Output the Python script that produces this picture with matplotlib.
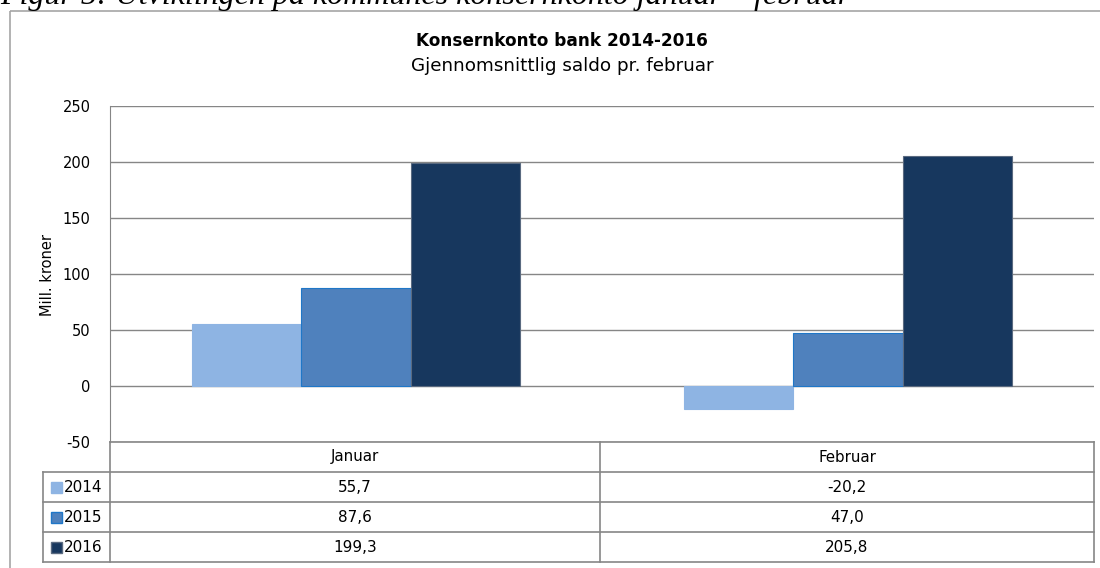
import numpy as np
import matplotlib.pyplot as plt
from matplotlib.patches import Rectangle

# Data
months = ["Januar", "Februar"]
years = ["2014", "2015", "2016"]
v2014 = [55.7, -20.2]
v2015 = [87.6, 47.0]
v2016 = [199.3, 205.8]
values = [v2014, v2015, v2016]
labels = [["55,7", "-20,2"], ["87,6", "47,0"], ["199,3", "205,8"]]
colors = ["#8EB4E3", "#4F81BD", "#17375E"]
edges = ["#8EB4E3", "#1F77C8", "#5A6A80"]

plt.rcParams['font.family'] = ['DejaVu Sans']
plt.rcParams['axes.unicode_minus'] = False
W, H = 1100, 568
fig = plt.figure(figsize=(11, 5.68), dpi=100)

# overlay in pixel coordinates for frame, titles and data table
bg = fig.add_axes([0, 0, 1, 1])
bg.set_xlim(0, W)
bg.set_ylim(H, 0)
bg.axis("off")

grid_c = "#868686"
bg.add_patch(Rectangle((10, 11), 1200, 700, fill=False, ec="#A6A6A6", lw=1.2))
# caption of the document, cut by the top edge as in the source
bg.text(0, 4, "Figur 5: Utviklingen på kommunes konsernkonto januar – februar",
        family=["Liberation Serif"], style="italic", fontsize=23, va="baseline", ha="left")
bg.text(562, 41, "Konsernkonto bank 2014-2016", fontsize=12.2, fontweight="bold",
        ha="center", va="center")
bg.text(562, 66, "Gjennomsnittlig saldo pr. februar", fontsize=13.2, ha="center", va="center")
bg.text(47, 275, "Mill. kroner", rotation=90, fontsize=10.5, ha="center", va="center")

# plot area
x0, x1, ytop, ybot = 110, 1094, 106, 442
ax = fig.add_axes([x0 / W, 1 - ybot / H, (x1 - x0) / W, (ybot - ytop) / H])
ax.set_zorder(2)
ax.patch.set_alpha(0)
x = np.arange(len(months))
bw = 0.2226
for i, (vals, c, e) in enumerate(zip(values, colors, edges)):
    ax.bar(x + (i - 1) * bw, vals, bw, color=c, edgecolor=e, linewidth=0.8, zorder=3)
ax.set_xlim(-0.5, 1.5)
ax.set_ylim(-50, 250)
ax.set_yticks(np.arange(-50, 251, 50))
ax.yaxis.grid(True, color=grid_c, lw=1)
ax.set_xticks([])
ax.tick_params(axis="y", length=0, pad=14, labelsize=10.5)
for s in ["top", "right", "bottom"]:
    ax.spines[s].set_visible(False)
ax.spines["left"].set_color(grid_c)

# data table
tl = 43
col_div = 600
rows_y = [472, 502, 532, 562]
lk = dict(color=grid_c, lw=1.2)
bg.plot([x0, x1], [ybot, ybot], **lk)
for ry in rows_y:
    bg.plot([tl, x1], [ry, ry], **lk)
bg.plot([tl, tl], [rows_y[0], rows_y[-1]], **lk)
for vx in [x0, col_div, x1]:
    bg.plot([vx, vx], [ybot, rows_y[-1]], **lk)
centers = [(x0 + col_div) / 2, (col_div + x1) / 2]
for m, cx in zip(months, centers):
    bg.text(cx, (ybot + rows_y[0]) / 2, m, fontsize=10.8, ha="center", va="center")
for r in range(3):
    cy = (rows_y[r] + rows_y[r + 1]) / 2
    bg.add_patch(Rectangle((51, cy - 5.5), 11, 11, fc=colors[r], ec=edges[r], lw=1))
    bg.text(64, cy, years[r], fontsize=11, ha="left", va="center")
    for j, cx in enumerate(centers):
        bg.text(cx, cy, labels[r][j], fontsize=11, ha="center", va="center")

fig.savefig("out.png", dpi=100)
